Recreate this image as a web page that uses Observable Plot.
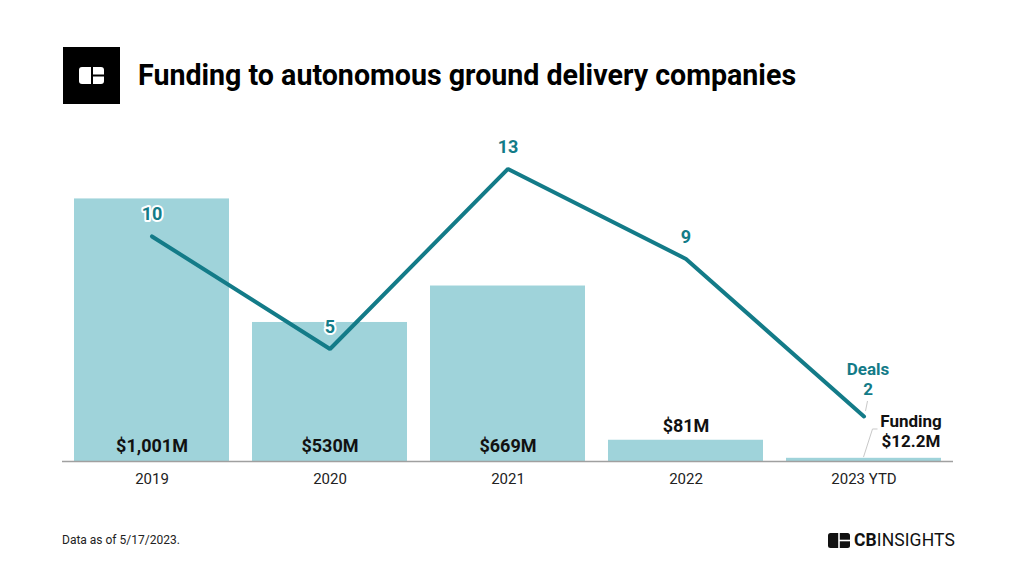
<!DOCTYPE html>
<html>
<head>
<meta charset="utf-8">
<script src="https://cdn.jsdelivr.net/npm/d3@7"></script>
<script src="https://cdn.jsdelivr.net/npm/@observablehq/plot@0.6"></script>
<style>
  html, body { margin: 0; padding: 0; background: #fff; }
  body { width: 1024px; height: 572px; position: relative; overflow: hidden; font-family: Roboto, "Noto Sans", sans-serif; }
  #logo { position: absolute; left: 63px; top: 47px; width: 57px; height: 57px; background: #000; }
  #title { position: absolute; left: 138px; top: 57px; font-size: 28.6px; line-height: 36px; font-weight: 700; color: #000; white-space: nowrap; }
  #chart { position: absolute; left: 0; top: 110px; }
  #note { position: absolute; left: 62px; top: 533px; font-size: 12px; color: #222; }
  #brand { position: absolute; left: 828px; top: 530px; display: flex; align-items: center; gap: 4px; }
  #brand span { font-size: 17.5px; color: #111; letter-spacing: 0.1px; }
</style>
</head>
<body>
<div id="logo">
  <svg width="57" height="57" viewBox="0 0 57 57">
    <rect x="16" y="20" width="25" height="17" rx="3" fill="#fff"/>
    <line x1="29" y1="20" x2="29" y2="37" stroke="#000" stroke-width="2"/>
    <line x1="29" y1="28.5" x2="41" y2="28.5" stroke="#000" stroke-width="2"/>
  </svg>
</div>
<div id="title">Funding to autonomous ground delivery companies</div>
<div id="chart"></div>
<div id="note">Data as of 5/17/2023.</div>
<div id="brand">
  <svg width="22" height="15" viewBox="0 0 22 15">
    <rect x="0" y="0" width="22" height="15" rx="2.5" fill="#111"/>
    <line x1="11" y1="0" x2="11" y2="15" stroke="#fff" stroke-width="1.6"/>
    <line x1="11" y1="7.5" x2="22" y2="7.5" stroke="#fff" stroke-width="1.6"/>
  </svg>
  <span><b>CB</b>INSIGHTS</span>
</div>
<script>
const years = ["2019", "2020", "2021", "2022", "2023 YTD"];
const funding = [1001, 530, 669, 81, 12.2];          // $M
const fundingLabels = ["$1,001M", "$530M", "$669M", "$81M", "Funding\n$12.2M"];
const deals = [10, 5, 13, 9, 2];
const dealLabels = ["10", "5", "13", "9", "Deals\n2"];

const barColor = "#9fd3da";
const lineColor = "#137b88";
// deals drawn against a secondary axis: 1 deal ≙ 85.8 $M of the funding axis
const dealUnit = 85.8;

const rows = years.map((y, i) => ({
  year: y, funding: funding[i], fLabel: fundingLabels[i],
  deals: deals[i], dLabel: dealLabels[i], dealsY: deals[i] * dealUnit
}));
const inside = rows.slice(0, 3);
const r2022 = rows.slice(3, 4);
const r2023 = rows.slice(4);
const mainDeals = rows.slice(0, 4);

const plot = Plot.plot({
  width: 1024,
  height: 390,
  marginLeft: 62,
  marginRight: 71,
  marginTop: 10,
  marginBottom: 39,
  style: { fontFamily: "Roboto, sans-serif", background: "transparent" },
  x: { domain: years, paddingInner: 0.13, paddingOuter: 0.065, label: null },
  y: { domain: [0, 1300], axis: null },
  marks: [
    Plot.barY(rows, { x: "year", y: "funding", fill: barColor }),
    Plot.ruleY([0], { stroke: "#a0a0a0", strokeWidth: 1.5 }),
    Plot.axisX({ tickSize: 0, tickPadding: 12, fontSize: 15, fill: "#222", label: null }),
    Plot.line(rows, { x: "year", y: "dealsY", stroke: lineColor, strokeWidth: 4, strokeLinecap: "round", strokeLinejoin: "miter" }),
    Plot.text(inside, { x: "year", y: 0, text: "fLabel", dy: -15, fontSize: 18, fontWeight: 700, fill: "#111" }),
    Plot.text(r2022, { x: "year", y: "funding", text: "fLabel", dy: -14, fontSize: 18, fontWeight: 700, fill: "#111" }),
    Plot.text(r2023, { x: "year", y: 0, text: "fLabel", dx: 47, dy: -31, fontSize: 17, fontWeight: 700, fill: "#111", lineHeight: 1.2 }),
    Plot.text(mainDeals, { x: "year", y: "dealsY", text: "dLabel", dy: -22, fontSize: 18, fontWeight: 700, fill: lineColor, stroke: "#fff", strokeWidth: 4, paintOrder: "stroke" }),
    Plot.text(r2023, { x: "year", y: "dealsY", text: "dLabel", dx: 4, dy: -38, fontSize: 17, fontWeight: 700, fill: lineColor, lineHeight: 1.2 })
  ]
});
document.getElementById("chart").appendChild(plot);

// small leader lines placed with the plot's own scales
const sx = plot.scale("x"), sy = plot.scale("y");
const cx = sx.apply("2023 YTD") + sx.bandwidth / 2;
const svg = d3.select(plot);
const g = svg.append("g").attr("stroke", "#c8c8c8").attr("stroke-width", 1).attr("fill", "none");
g.append("path").attr("d", `M${cx},${sy.apply(15)}L${cx + 9},${sy.apply(122)}L${cx + 14},${sy.apply(122)}`);
const pY = sy.apply(2 * dealUnit);
g.append("path").attr("d", `M${cx + 2},${pY - 5}L${cx + 4},${pY - 15}`);
</script>
</body>
</html>
